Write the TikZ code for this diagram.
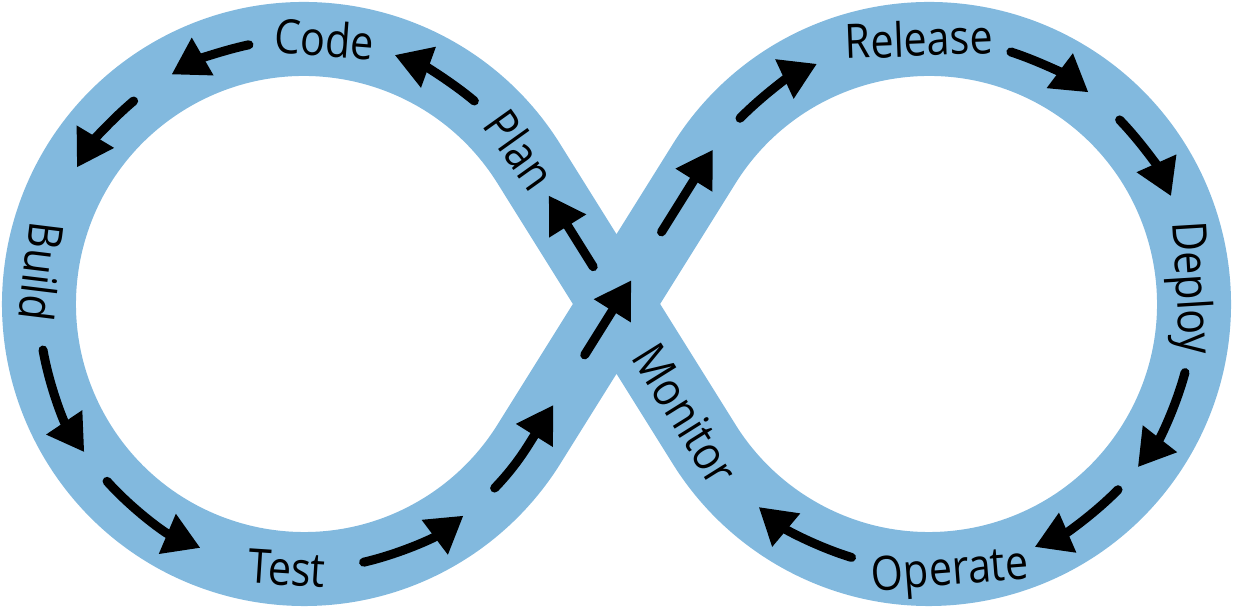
\documentclass[tikz,border=0pt]{standalone}
\usepackage{fontspec}
\newfontfamily\lblfont{Open Sans}[FakeStretch=0.87]
\usepackage{tikz}
\usetikzlibrary{arrows.meta, calc}
\newcommand{\loopr}{265}
\newcommand{\armlen}{165.6}
\definecolor{bandblue}{RGB}{130,185,222}
\tikzset{
  % --- band ---
  band/.style  = {draw=bandblue, line width=1.48cm, line join=round},
  % --- arrows ---
  flow/.style  = {-{Triangle[length=0.72cm, width=0.82cm]}, line width=0.18cm,
                  line cap=round, black},
  % --- labels ---
  stage/.style = {font=\lblfont\fontsize{27pt}{30pt}\selectfont, inner sep=0pt,
                  text height=19.3pt, text depth=0pt, anchor=center},
}

\begin{document}
\begin{tikzpicture}[x=0.02cm, y=0.02cm]
  \useasboundingbox (0,0) rectangle (1233,608);

  % ===================================================================
  %  CENTRES
  % ===================================================================
  \coordinate (L) at (304,304);
  \coordinate (R) at (929,304);
  \coordinate (M) at (616.5,304);

  % ===================================================================
  %  BAND (figure eight)
  % ===================================================================
  \draw[band] (M) -- ([shift={(122:\armlen)}]M)
    arc[start angle=32, end angle=328, radius=\loopr]
    -- ([shift={(58:\armlen)}]M)
    arc[start angle=148, end angle=-148, radius=\loopr]
    -- cycle;

  % ===================================================================
  %  FLOW ARROWS
  % ===================================================================
  % --- left loop ---
  \draw[flow] ([shift={(122:44)}]M) -- ([shift={(122:128)}]M);
  \draw[flow] ([shift={(50:\loopr)}]L)  arc[start angle=50,  end angle=70,  radius=\loopr];
  \draw[flow] ([shift={(102:\loopr)}]L) arc[start angle=102, end angle=120, radius=\loopr];
  \draw[flow] ([shift={(130:\loopr)}]L) arc[start angle=130, end angle=149, radius=\loopr];
  \draw[flow] ([shift={(190:\loopr)}]L) arc[start angle=190, end angle=214, radius=\loopr];
  \draw[flow] ([shift={(222:\loopr)}]L) arc[start angle=222, end angle=247, radius=\loopr];
  \draw[flow] ([shift={(283:\loopr)}]L) arc[start angle=283, end angle=307, radius=\loopr];
  \draw[flow] ([shift={(316:\loopr)}]L) arc[start angle=316, end angle=328, radius=\loopr]
    -- ([shift={(238:119)}]M);

  % --- crossing ---
  \draw[flow] ([shift={(238:60)}]M) -- ([shift={(58:28)}]M);
  \draw[flow] ([shift={(58:85)}]M) -- ([shift={(58:182)}]M);

  % --- right loop ---
  \draw[flow] ([shift={(135.5:\loopr)}]R) arc[start angle=135.5, end angle=115,   radius=\loopr];
  \draw[flow] ([shift={(72:\loopr)}]R)    arc[start angle=72,    end angle=53,    radius=\loopr];
  \draw[flow] ([shift={(44:\loopr)}]R)    arc[start angle=44,    end angle=24,    radius=\loopr];
  \draw[flow] ([shift={(-15:\loopr)}]R)   arc[start angle=-15,   end angle=-38,   radius=\loopr];
  \draw[flow] ([shift={(-44.5:\loopr)}]R) arc[start angle=-44.5, end angle=-66.5, radius=\loopr];
  \draw[flow] ([shift={(-107:\loopr)}]R)  arc[start angle=-107,  end angle=-130,  radius=\loopr];

  % ===================================================================
  %  STAGE LABELS
  % ===================================================================
  \node[stage, rotate=-4.5]  (code)    at ([shift={(85.5:\loopr)}]L)  {Code};
  \node[stage, rotate=-97]   (build)   at ([shift={(173:\loopr)}]L)   {Build};
  \node[stage, rotate=-3.7]  (test)    at ([shift={(266.3:\loopr)}]L) {Test};
  \node[stage, rotate=-54.5] (plan)    at ([shift={(35.5:\loopr)}]L)  {Plan};
  \node[stage, rotate=-58]   (monitor) at ([shift={(302:130)}]M)      {Monitor};
  \node[stage, rotate=2.2]   (release) at ([shift={(92.2:\loopr)}]R)  {Release};
  \node[stage, rotate=-86.5] (deploy)  at ([shift={(3.5:\loopr)}]R)   {Deploy};
  \node[stage, rotate=4.5]   (operate) at ([shift={(-85.5:\loopr)}]R) {Operate};

\end{tikzpicture}
\end{document}
